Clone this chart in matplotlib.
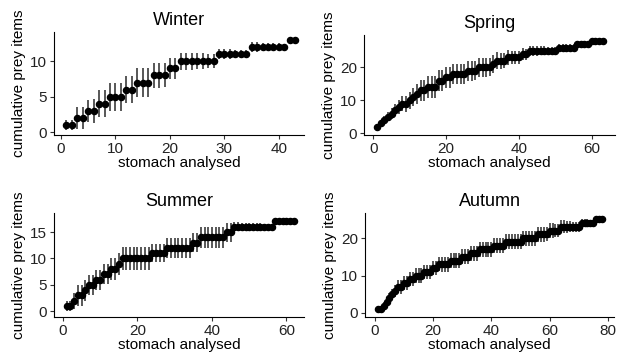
import matplotlib
matplotlib.use("Agg")
import matplotlib.pyplot as plt

plt.rcParams['font.family'] = ['Liberation Sans', 'DejaVu Sans']

# cumulative prey items per stomach analysed (mean and sd)
winter_y = [1, 1, 2, 2, 3, 3, 4, 4, 5, 5, 5, 6, 6, 7, 7, 7, 8, 8, 8, 9, 9,
            10, 10, 10, 10, 10, 10, 10, 11, 11, 11, 11, 11, 11,
            12, 12, 12, 12, 12, 12, 12, 13, 13]
winter_sd = [0.7, 0.7, 1.6, 1.6, 1.6, 1.7, 1.9, 1.9, 2.0, 2.0, 2.0, 1.9, 1.9,
             2.1, 2.1, 2.0, 1.8, 1.8, 1.7, 1.5, 1.5, 1.2, 1.2, 1.2, 1.1, 1.1,
             1.0, 1.0, 0.7, 0.7, 0.7, 0.6, 0.6, 0.6, 0.7, 0.7, 0.6, 0.6, 0.5,
             0.5, 0.4, 0.0, 0.0]

spring_y = [2, 3, 4, 5, 6, 7, 8, 9, 9, 10, 11, 12, 13, 13, 14, 14, 14, 16, 16,
            17, 17, 18, 18, 18, 18, 19, 19, 19, 20, 20, 20, 20, 21, 22, 22, 22,
            23, 23, 23, 23, 24, 24, 25, 25, 25, 25, 25, 25, 25, 25, 26, 26, 26,
            26, 26, 27, 27, 27, 27, 28, 28, 28, 28]
spring_sd = [0.8, 1.0, 1.2, 1.4, 1.6, 1.8, 2.0, 2.2, 2.4, 2.6, 2.8, 3.0, 3.2,
             3.3, 3.4, 3.4, 3.4, 3.3, 3.3, 3.2, 3.2, 3.1, 3.1, 3.0, 3.0, 3.0,
             3.0, 2.9, 2.9, 2.8, 2.8, 2.7, 2.6, 2.5, 2.4, 2.3, 2.2, 2.1, 2.0,
             1.9, 1.8, 1.7, 1.6, 1.5, 1.5, 1.4, 1.4, 1.3, 1.3, 1.2, 1.2, 1.1,
             1.1, 1.0, 1.0, 0.9, 0.8, 0.7, 0.6, 0.5, 0.4, 0.2, 0.0]

summer_y = [1, 1, 2, 3, 3, 4, 5, 5, 6, 6, 7, 7, 8, 8, 9,
            10, 10, 10, 10, 10, 10, 10, 10, 11, 11, 11, 11,
            12, 12, 12, 12, 12, 12, 12, 13, 13, 14, 14, 14, 14, 14, 14, 14,
            15, 15, 16, 16, 16, 16, 16, 16, 16, 16, 16, 16, 16,
            17, 17, 17, 17, 17, 17]
summer_sd = [1.0, 1.0, 1.5, 2.0, 2.0, 2.0, 1.9, 1.9, 1.9, 1.9, 1.9, 1.9, 2.0,
             2.0, 2.1, 2.2, 2.2, 2.2, 2.2, 2.2, 2.2, 2.1, 2.1, 1.7, 1.7, 1.7,
             1.7, 1.9, 1.9, 1.9, 1.9, 1.9, 1.9, 1.9, 1.8, 1.8, 2.0, 2.0, 2.0,
             2.0, 2.0, 2.0, 2.0, 1.8, 1.8, 0.9, 0.9, 0.8, 0.8, 0.8, 0.7, 0.7,
             0.7, 0.6, 0.6, 0.5, 0.3, 0.0, 0.0, 0.0, 0.0, 0.0]

autumn_y = [1, 1, 2, 3, 4, 5, 6, 7, 7, 8, 8, 9, 9, 10, 10, 10, 11, 11, 11,
            12, 12, 13, 13, 13, 13, 14, 14, 14, 14, 15, 15, 15, 16, 16, 16,
            17, 17, 17, 17, 17, 18, 18, 18, 18, 19, 19, 19, 19, 19, 19,
            20, 20, 20, 20, 20, 21, 21, 21, 21, 22, 22, 22, 22,
            23, 23, 23, 23, 23, 23, 23, 24, 24, 24, 24, 24, 25, 25, 25]
autumn_sd = [0.5, 0.8, 1.0, 1.2, 1.4, 1.5, 1.6, 1.7, 1.8, 1.8, 1.9, 1.9, 1.9,
             1.9, 1.9, 1.9, 1.9, 1.9, 1.9, 1.9, 1.9, 1.9, 2.0, 2.0, 2.0, 2.0,
             2.0, 2.0, 2.0, 2.0, 2.0, 2.0, 2.0, 2.0, 2.0, 2.0, 2.0, 2.0, 2.0,
             2.0, 2.0, 2.0, 2.0, 2.0, 2.0, 2.0, 2.0, 2.0, 2.0, 2.0, 2.0, 2.0,
             2.0, 2.0, 2.0, 2.0, 2.0, 2.0, 1.9, 1.9, 1.9, 1.8, 1.8, 1.7, 1.7,
             1.6, 1.5, 1.4, 1.4, 1.3, 1.2, 1.1, 1.0, 0.9, 0.7, 0.5, 0.3, 0.0]

seasons = ['Winter', 'Spring', 'Summer', 'Autumn']
means = [winter_y, spring_y, summer_y, autumn_y]
sds = [winter_sd, spring_sd, summer_sd, autumn_sd]
xticks = [[0, 10, 20, 30, 40], [0, 20, 40, 60], [0, 20, 40, 60], [0, 20, 40, 60, 80]]
yticks = [[0, 5, 10], [0, 10, 20], [0, 5, 10, 15], [0, 10, 20]]

W, H = 619, 360
# panel boxes in pixels: left, right, top, bottom
boxes = [(54, 304, 32, 135), (364, 615, 35, 135),
         (54, 304, 213, 317), (365, 614, 213, 317)]
xlims = [(-1.28, 44.6), (-2.56, 66.4), (-2.4, 64.7), (-3.4, 82.1)]
ylims = [(-0.38, 14.1), (-0.5, 29.8), (-1.08, 18.6), (-1.07, 26.7)]

fig = plt.figure(figsize=(W / 100, H / 100), dpi=100)

for i in range(4):
    l, r, t, b = boxes[i]
    ax = fig.add_axes([l / W, 1 - b / H, (r - l) / W, (b - t) / H])
    y = means[i]
    x = list(range(1, len(y) + 1))
    ax.errorbar(x, y, yerr=sds[i], fmt='o', color='black', ecolor='#2a2a2a',
                elinewidth=1.1, markersize=4.4, capsize=0)
    ax.set_xlim(*xlims[i])
    ax.set_ylim(*ylims[i])
    ax.set_xticks(xticks[i])
    ax.set_yticks(yticks[i])
    ax.spines['top'].set_visible(False)
    ax.spines['right'].set_visible(False)
    for s in ['left', 'bottom']:
        ax.spines[s].set_linewidth(0.8)
    ax.tick_params(labelsize=11, length=3, width=0.8, colors='#333333',
                   labelcolor='#222222', pad=2)
    ax.set_title(seasons[i], fontsize=13, pad=5)
    ax.set_xlabel('stomach analysed', fontsize=11, labelpad=0)
    ax.set_ylabel('cumulative prey items', fontsize=11, labelpad=3)

fig.savefig('out.png', dpi=100)
